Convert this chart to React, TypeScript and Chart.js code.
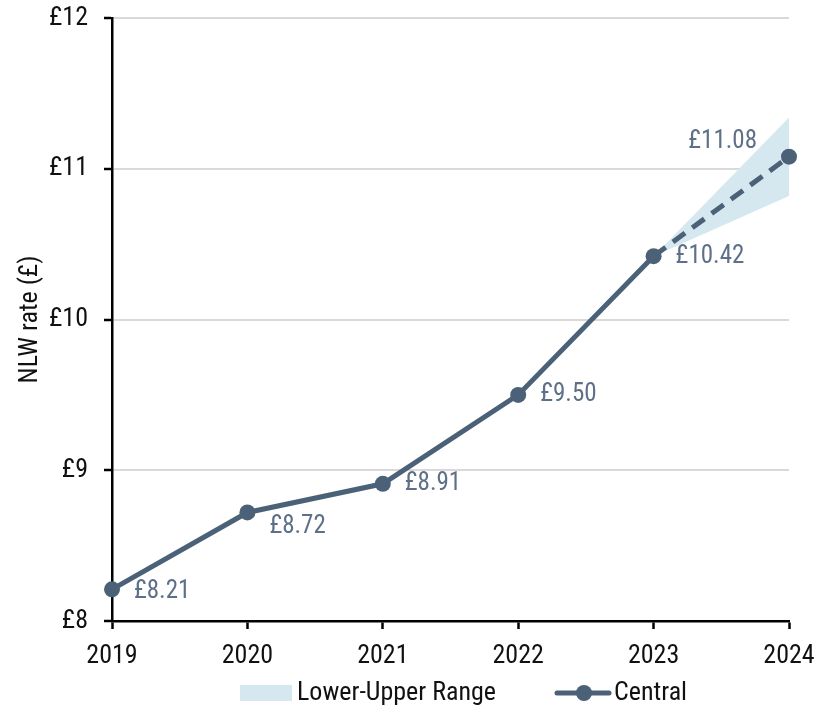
import React, { useEffect, useRef } from "react";
import { Chart, registerables } from "chart.js";

Chart.register(...registerables);

const years = ["2019", "2020", "2021", "2022", "2023", "2024"];
const central = [8.21, 8.72, 8.91, 9.5, 10.42, 11.08];
const lowerRange = [null, null, null, null, 10.42, 10.82];
const upperRange = [null, null, null, null, 10.42, 11.34];
const yTicks = [8, 9, 10, 11, 12];

const FONT = '"Roboto Condensed", "Liberation Sans Narrow", "DejaVu Sans Condensed", "Arial Narrow", sans-serif';
const LINE = "#4b6177";
const BAND = "#d5e8ef";
const LABEL = "#5d7088";

const labelPlugin = {
  id: "valueLabels",
  afterDatasetsDraw(chart: any) {
    const meta = chart.getDatasetMeta(0);
    const ctx = chart.ctx;
    ctx.save();
    ctx.font = `25px ${FONT}`;
    ctx.fillStyle = LABEL;
    ctx.textBaseline = "middle";
    const offs: [number, number, CanvasTextAlign][] = [
      [22, 2, "left"],
      [22, 14, "left"],
      [22, 0, "left"],
      [22, 0, "left"],
      [22, 1, "left"],
      [-32, -15, "right"],
    ];
    meta.data.forEach((pt: any, i: number) => {
      const v = central[i];
      const [dx, dy, al] = offs[i];
      ctx.textAlign = al;
      ctx.fillText("£" + v.toFixed(2), pt.x + dx, pt.y + dy);
    });
    ctx.restore();
  },
};

const legendPlugin = {
  id: "customLegend",
  afterDraw(chart: any) {
    const ctx = chart.ctx;
    const y = 693;
    ctx.save();
    ctx.fillStyle = BAND;
    ctx.fillRect(240, y - 8, 52, 16);
    ctx.font = `26px ${FONT}`;
    ctx.fillStyle = "#111";
    ctx.textAlign = "left";
    ctx.textBaseline = "middle";
    ctx.fillText("Lower-Upper Range", 297, y);
    ctx.strokeStyle = LINE;
    ctx.lineWidth = 5;
    ctx.lineCap = "round";
    ctx.beginPath();
    ctx.moveTo(557, y);
    ctx.lineTo(609, y);
    ctx.stroke();
    ctx.fillStyle = LINE;
    ctx.beginPath();
    ctx.arc(584, y, 8, 0, Math.PI * 2);
    ctx.fill();
    ctx.fillStyle = "#111";
    ctx.fillText("Central", 614, y);
    ctx.restore();
  },
};

export default function App() {
  const ref = useRef<HTMLCanvasElement>(null);
  useEffect(() => {
    if (!ref.current) return;
    const chart = new Chart(ref.current, {
      type: "line",
      data: {
        labels: years,
        datasets: [
          {
            label: "Central",
            data: central,
            borderColor: LINE,
            backgroundColor: LINE,
            borderWidth: 5,
            pointRadius: 8,
            pointBackgroundColor: LINE,
            pointBorderWidth: 0,
            tension: 0,
            fill: false,
            clip: false,
            segment: {
              borderDash: (c: any) => (c.p0DataIndex === 4 ? [15, 9] : undefined),
            },
          },
          {
            label: "lower",
            data: lowerRange,
            borderWidth: 0,
            pointRadius: 0,
            backgroundColor: BAND,
            fill: false,
          },
          {
            label: "Lower-Upper Range",
            data: upperRange,
            borderWidth: 0,
            pointRadius: 0,
            backgroundColor: BAND,
            fill: "-1",
          },
        ],
      },
      options: {
        animation: false,
        responsive: false,
        maintainAspectRatio: false,
        layout: { padding: { top: 18, right: 38, left: 0, bottom: 40 } },
        plugins: { legend: { display: false }, tooltip: { enabled: false } },
        scales: {
          x: {
            offset: false,
            grid: {
              drawOnChartArea: false,
              drawTicks: true,
              tickLength: 8,
              tickColor: "#000",
              tickWidth: 2.5,
            },
            border: { color: "#000", width: 2.5 },
            ticks: { color: "#111", font: { family: FONT, size: 26 }, padding: 12, maxRotation: 0 },
            afterFit: (s: any) => { s.height = 45; s.paddingLeft = 0; s.paddingRight = 0; },
          },
          y: {
            min: 8,
            max: 12,
            afterBuildTicks: (s: any) => { s.ticks = yTicks.map((v) => ({ value: v })); },
            grid: { color: "#d9d9d9", lineWidth: 2, tickColor: "#000", tickLength: 8, tickWidth: 2.5 },
            border: { color: "#000", width: 2.5 },
            ticks: {
              color: "#111",
              font: { family: FONT, size: 26 },
              padding: 16,
              callback: (v: any) => "£" + v,
            },
            title: { display: true, text: "NLW rate (£)", color: "#111", font: { family: FONT, size: 26 }, padding: { top: 15, bottom: 0 } },
            afterFit: (s: any) => { s.width = 112; s.paddingTop = 0; s.paddingBottom = 0; },
          },
        },
      },
      plugins: [labelPlugin, legendPlugin],
    });
    return () => chart.destroy();
  }, []);
  return (
    <div style={{ position: "fixed", left: 0, top: 0, width: 827, height: 706, background: "#fff" }}>
      <canvas ref={ref} width={827} height={706} style={{ width: 827, height: 706 }} />
    </div>
  );
}
